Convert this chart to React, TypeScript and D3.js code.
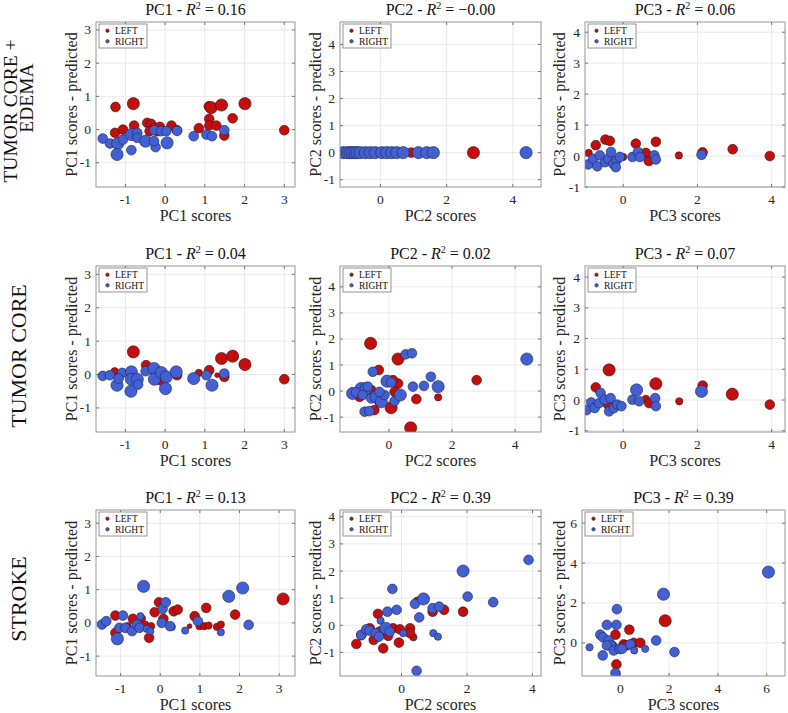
import React from "react";
import * as d3 from "d3";

type Pt = [number, number, number];

const ROW_LABELS: string[][] = [["TUMOR CORE +", "EDEMA"], ["TUMOR CORE"], ["STROKE"]];
const PCS = ["PC1", "PC2", "PC3"];
const R2_VALUES = [
  ["0.16", "\u22120.00", "0.06"],
  ["0.04", "0.02", "0.07"],
  ["0.13", "0.39", "0.39"],
];
const LEGEND_LABELS = ["LEFT", "RIGHT"];

const X_LIMITS: [number, number][] = [
  [-1.74, 3.27], [-1.22, 4.85], [-1.03, 4.36],
  [-1.74, 3.27], [-1.55, 4.82], [-1.03, 4.36],
  [-1.62, 3.4], [-1.88, 4.26], [-1.57, 6.75],
];
const Y_LIMITS: [number, number][] = [
  [-1.73, 3.24], [-1.27, 4.83], [-1.0, 4.33],
  [-1.72, 3.25], [-1.57, 4.8], [-1.04, 4.36],
  [-1.6, 3.4], [-1.87, 4.25], [-1.66, 6.66],
];
const X_TICKS: number[][] = [
  [-1, 0, 1, 2, 3], [0, 2, 4], [0, 2, 4],
  [-1, 0, 1, 2, 3], [0, 2, 4], [0, 2, 4],
  [-1, 0, 1, 2, 3], [0, 2, 4], [0, 2, 4, 6],
];
const Y_TICKS: number[][] = [
  [-1, 0, 1, 2, 3], [-1, 0, 1, 2, 3, 4], [-1, 0, 1, 2, 3, 4],
  [-1, 0, 1, 2, 3], [-1, 0, 1, 2, 3, 4], [-1, 0, 1, 2, 3, 4],
  [-1, 0, 1, 2, 3], [-1, 0, 1, 2, 3, 4], [0, 2, 4, 6],
];

// [score, score - predicted, marker size value]
const LEFT_POINTS: Pt[][] = [
  [[-1.25,0.68,3],[-0.80,0.78,4],[1.10,0.70,3],[1.16,0.66,4],[1.42,0.74,4],[2.01,0.78,4],[1.70,0.34,3],[1.11,0.32,3],[1.11,0.12,3],[1.29,0.12,3],[0.85,0.04,3],[1.49,-0.18,3],[3.0,-0.02,3],[-1.26,-0.10,3],[-1.06,0.0,3],[-0.78,0.12,3],[-0.45,0.2,3],[-0.35,0.17,3],[-0.26,0.05,3],[-0.13,0.08,3],[0.16,0.12,3],[0.30,-0.02,3],[-0.39,-0.05,3],[-0.2,-0.05,3]],
  [[-0.6,0,3],[0.3,0,3],[0.93,0,3],[2.81,0,4]],
  [[-0.93,0.1,2],[-0.74,0.35,3],[-0.48,0.53,3],[-0.36,0.49,3],[0.0,-0.03,2],[0.34,0.40,3],[0.61,0.1,3],[0.69,-0.16,3],[0.88,0.46,3],[1.50,0.02,2],[2.14,0.12,3],[2.95,0.22,3],[3.95,0.0,3]],
  [[-0.80,0.68,4],[1.42,0.48,4],[1.70,0.55,4],[2.01,0.30,4],[3.0,-0.14,3],[1.11,0.13,3],[0.85,0.05,2],[-0.48,0.28,3],[-1.27,0.1,2],[-0.13,-0.17,3],[0.3,-0.02,3],[1.31,-0.02,1],[1.49,-0.07,3],[-0.28,0.13,3]],
  [[-0.58,1.83,4],[0.29,1.23,4],[-0.32,0.81,3],[2.78,0.42,3],[0.69,-1.41,4],[0.87,-0.31,3],[1.56,-0.24,2],[0.07,-0.64,4],[-0.46,-0.73,3],[0.29,0.29,3],[0.13,0.42,3],[0.18,-0.03,3],[-0.56,0.04,3],[-0.93,-0.22,3],[-0.30,-0.41,3]],
  [[-0.38,0.98,4],[-0.74,0.41,3],[0.88,0.53,4],[2.14,0.47,3],[2.94,0.19,4],[3.95,-0.15,3],[1.51,-0.04,2],[0.61,0.04,2],[0.70,-0.1,3],[-0.41,-0.15,3]],
  [[3.10,0.72,4],[-1.13,0.22,3],[-1.13,-0.3,3],[-0.69,0.12,3],[-0.46,0.13,2],[-0.28,-0.45,3],[-0.14,0.32,3],[-0.03,0.62,3],[0.08,0.12,3],[0.34,0.35,3],[0.44,0.40,3],[0.87,0.2,3],[1.16,0.45,3],[1.89,0.25,3],[0.74,-0.1,1],[0.99,-0.1,2],[1.11,-0.1,2],[1.22,-0.08,2],[1.43,-0.12,2],[1.53,-0.05,2],[-0.23,-0.1,2],[-0.38,-0.05,2],[-0.82,-0.1,2],[0.29,-0.12,2]],
  [[-1.38,-0.69,3],[-1.23,-0.36,3],[-0.72,0.42,3],[-0.85,-0.54,3],[-0.56,-0.85,3],[-0.67,-0.23,3],[-0.41,-0.39,3],[-0.26,-0.11,3],[-0.08,-0.64,3],[-0.05,-0.15,3],[0.26,-0.11,3],[0.36,-0.44,2],[0.26,-0.29,3],[0.48,0.91,2],[0.95,0.50,3],[1.30,0.57,3],[1.88,0.5,3],[-0.97,-0.11,3]],
  [[1.84,1.11,4],[0.37,0.66,3],[-0.2,0.41,3],[-0.16,-1.08,3],[0.14,-0.08,3],[0.55,0.0,3],[0.82,0.0,3],[-0.34,-0.13,3],[0.25,-0.13,3]],
];
const RIGHT_POINTS: Pt[][] = [
  [[-1.57,-0.27,3],[-1.39,-0.42,3],[-1.19,-0.42,4],[-1.06,-0.3,3],[-1.21,-0.75,4],[-0.85,-0.62,3],[-0.85,-0.15,4],[-0.70,-0.10,3],[-0.70,-0.25,3],[-0.49,-0.35,4],[-0.27,-0.02,3],[-0.24,-0.53,3],[-0.28,-0.35,3],[-0.10,-0.05,3],[0.03,-0.05,3],[0.05,-0.40,4],[0.30,-0.04,3],[0.72,-0.20,3],[1.04,-0.15,3],[1.18,-0.20,3],[1.49,-0.02,3]],
  [[-1.12,0,4],[-1.0,0,4],[-0.92,0,4],[-0.85,0,4],[-0.77,0,4],[-0.7,0,4],[-0.61,0,4],[-0.46,0,4],[-0.31,0,4],[-0.16,0,4],[0.04,0,4],[0.19,0,4],[0.34,0,4],[0.49,0,4],[0.69,0,4],[1.15,0,4],[1.40,0,4],[1.60,0,4],[4.40,0,4]],
  [[-0.94,-0.27,3],[-0.81,-0.09,3],[-0.70,-0.33,3],[-0.63,0.02,3],[-0.49,-0.2,3],[-0.40,-0.09,3],[-0.33,0.13,3],[-0.27,-0.25,3],[-0.18,-0.14,3],[-0.09,-0.03,3],[-0.2,-0.36,3],[0.25,-0.03,3],[0.40,0.13,3],[0.45,-0.03,3],[0.84,0.02,3],[0.88,-0.11,3],[2.11,0.04,3]],
  [[-1.57,-0.04,3],[-1.39,-0.02,3],[-1.21,-0.32,4],[-1.08,0.05,3],[-1.17,-0.12,3],[-0.85,0.08,4],[-0.86,-0.5,4],[-0.85,-0.14,4],[-0.70,-0.14,4],[-0.68,-0.3,3],[-0.49,0.10,3],[-0.28,0.18,4],[-0.27,-0.14,4],[-0.10,0.06,4],[0.03,-0.07,4],[0.01,-0.42,4],[0.28,0.08,4],[0.72,-0.12,4],[1.04,-0.02,3],[1.18,-0.32,4],[1.49,0.03,3]],
  [[-1.15,-0.09,4],[-0.88,0.10,4],[-1.04,-0.05,3],[-0.72,0.10,4],[-0.83,-0.15,3],[-0.67,0.17,3],[-0.51,0.74,3],[-0.56,-0.28,3],[-0.40,-0.22,4],[-0.24,-0.41,4],[-0.14,-0.15,3],[-0.30,-0.03,3],[-0.06,0.38,4],[0.07,0.33,3],[-0.77,-0.79,3],[-0.62,-0.77,3],[0.18,-0.38,3],[0.36,-0.15,4],[0.53,1.41,3],[0.73,1.45,3],[0.76,0.17,3],[1.11,0.2,3],[1.33,0.55,3],[1.56,0.17,4],[4.37,1.23,4]],
  [[-0.99,-0.33,3],[-0.86,-0.08,3],[-0.77,-0.26,3],[-0.65,-0.1,3],[-0.61,0.23,3],[-0.5,0.01,3],[-0.34,0.06,3],[-0.38,-0.37,3],[-0.25,-0.26,3],[-0.16,-0.15,3],[-0.05,-0.2,3],[0.25,0.01,3],[0.36,0.33,4],[0.43,-0.04,3],[0.86,0.06,3],[0.88,-0.2,3],[2.11,0.28,4]],
  [[-1.47,-0.05,3],[-1.36,0.05,3],[-1.08,-0.48,4],[-0.94,0.22,3],[-1.03,-0.15,3],[-0.88,-0.15,3],[-0.71,-0.25,3],[-0.59,-0.05,3],[-0.50,0.2,2],[-0.42,1.10,4],[-0.52,-0.15,3],[-0.34,-0.18,2],[-0.25,-0.25,2],[0.04,0.0,3],[0.06,0.42,3],[0.14,0.62,3],[0.25,-0.1,3],[0.63,-0.23,2],[0.95,0.05,3],[1.53,-0.28,2],[1.73,0.8,4],[2.08,1.05,4],[2.23,-0.06,3]],
  [[-1.23,-0.36,3],[-1.08,-0.15,3],[-0.98,-0.2,3],[-0.79,-0.29,3],[-0.64,0.17,2],[-0.69,-0.42,3],[-0.48,-0.11,4],[-0.43,0.5,3],[-0.36,-0.23,3],[-0.28,1.34,3],[-0.15,0.57,3],[0.05,-0.29,2],[0.41,0.79,3],[0.54,0.29,3],[0.67,0.97,4],[0.95,0.63,3],[1.15,0.69,3],[0.97,-0.29,2],[1.11,-0.42,2],[0.46,-1.68,3],[1.88,2.0,4],[2.02,1.06,3],[2.80,0.85,3],[3.88,2.41,3]],
  [[-1.26,-0.22,2],[-0.82,0.41,3],[-0.71,0.28,3],[-0.72,-0.63,3],[-0.55,0.9,3],[-0.16,0.9,3],[-0.14,1.69,3],[-0.48,0.12,3],[-0.38,-0.13,3],[-0.55,-0.13,3],[-0.27,-0.38,3],[-0.03,-0.3,3],[0.07,-0.3,3],[0.41,-0.08,3],[0.57,-0.38,2],[1.02,-0.3,2],[1.47,0.12,3],[1.77,2.44,4],[2.22,-0.46,3],[-0.2,-1.51,3],[6.07,3.55,4]],
];

const RED = "#c40d0d";
const BLUE = "#4360d2";
const FONT = "'Liberation Serif', 'Times New Roman', serif";

const COL_LEFT = [96, 340, 585];
const COL_RIGHT = [295, 541, 785];
const ROW_TOP = [22, 266, 510];
const ROW_BOTTOM = [187, 432, 676];
const YLABEL_X = [71.5, 315, 559.5];
// per row label line: [x centre, y centre]
const ROWLABEL_POS: [number, number][][] = [
  [[10.5, 111], [26.5, 98]],
  [[18.5, 356]],
  [[18.5, 599]],
];

const sizeScale = d3.scaleLinear().domain([1, 4]).range([2.4, 6.1]);

function Panel({ idx }: { idx: number }) {
  const row = Math.floor(idx / 3);
  const col = idx % 3;
  const left = row === 2 && col === 2 ? 582 : COL_LEFT[col];
  const right = COL_RIGHT[col];
  const top = ROW_TOP[row];
  const bottom = ROW_BOTTOM[row];
  const x = d3.scaleLinear().domain(X_LIMITS[idx]).range([left, right]);
  const y = d3.scaleLinear().domain(Y_LIMITS[idx]).range([bottom, top]);
  const clipId = `clip${idx}`;
  const pc = PCS[col];
  const tl = 3;
  const fmt = (v: number) => (v < 0 ? "-" + Math.abs(v) : String(v));
  return (
    <g>
      <defs>
        <clipPath id={clipId}>
          <rect x={left} y={top} width={right - left} height={bottom - top} />
        </clipPath>
      </defs>
      <rect x={left} y={top} width={right - left} height={bottom - top} fill="#fff" />
      {X_TICKS[idx].map((t) => (
        <line key={"gx" + t} x1={x(t)} x2={x(t)} y1={top} y2={bottom} stroke="#e3e3e3" strokeWidth={0.8} />
      ))}
      {Y_TICKS[idx].map((t) => (
        <line key={"gy" + t} x1={left} x2={right} y1={y(t)} y2={y(t)} stroke="#e3e3e3" strokeWidth={0.8} />
      ))}
      <g clipPath={`url(#${clipId})`}>
        {LEFT_POINTS[idx].map((p, i) => (
          <circle key={"l" + i} cx={x(p[0])} cy={y(p[1])} r={sizeScale(p[2])} fill={RED} stroke="#3a1010" strokeWidth={0.6} />
        ))}
        {RIGHT_POINTS[idx].map((p, i) => (
          <circle key={"r" + i} cx={x(p[0])} cy={y(p[1])} r={sizeScale(p[2])} fill={BLUE} stroke="#1c2550" strokeWidth={0.6} />
        ))}
      </g>
      {X_TICKS[idx].map((t) => (
        <g key={"tx" + t}>
          <line x1={x(t)} x2={x(t)} y1={bottom} y2={bottom - tl} stroke="#555" strokeWidth={0.8} />
          <line x1={x(t)} x2={x(t)} y1={top} y2={top + tl} stroke="#555" strokeWidth={0.8} />
          <text x={x(t)} y={bottom + 17} textAnchor="middle" fontSize={13.5} fontFamily={FONT} fill="#262626">
            {fmt(t)}
          </text>
        </g>
      ))}
      {Y_TICKS[idx].map((t) => (
        <g key={"ty" + t}>
          <line x1={left} x2={left + tl} y1={y(t)} y2={y(t)} stroke="#555" strokeWidth={0.8} />
          <line x1={right} x2={right - tl} y1={y(t)} y2={y(t)} stroke="#555" strokeWidth={0.8} />
          <text x={left - 5} y={y(t) + 4.5} textAnchor="end" fontSize={13.5} fontFamily={FONT} fill="#262626">
            {fmt(t)}
          </text>
        </g>
      ))}
      <rect x={left} y={top} width={right - left} height={bottom - top} fill="none" stroke="#8a8a8a" strokeWidth={0.9} />
      <rect x={left + 3} y={top + 2} width={48} height={24} fill="#fff" stroke="#7a7a7a" strokeWidth={0.8} />
      {LEGEND_LABELS.map((lab, i) => (
        <g key={lab}>
          <circle cx={left + 11.5} cy={top + 8.7 + i * 10.6} r={1.7} fill={i === 0 ? RED : BLUE} stroke="#222" strokeWidth={0.6} />
          <text x={left + 19} y={top + 12 + i * 10.6} fontSize={9.5} fontFamily={FONT} fill="#111">
            {lab}
          </text>
        </g>
      ))}
      <text x={(left + right) / 2} y={top - 7.5} textAnchor="middle" fontSize={16} fontFamily={FONT} fill="#111">
        {pc} - <tspan fontStyle="italic">R</tspan>
        <tspan fontSize={10} dy={-6}>2</tspan>
        <tspan dy={6}> = {R2_VALUES[row][col]}</tspan>
      </text>
      <text x={(left + right) / 2} y={bottom + 33.5} textAnchor="middle" fontSize={16} fontFamily={FONT} fill="#262626">
        {pc} scores
      </text>
      <text
        transform={`translate(${YLABEL_X[col]},${(top + bottom) / 2}) rotate(-90)`}
        textAnchor="middle"
        dominantBaseline="central"
        fontSize={16}
        fontFamily={FONT}
        fill="#262626"
      >
        {pc} scores - predicted
      </text>
    </g>
  );
}

export default function App() {
  return (
    <svg width={788} height={713} style={{ position: "absolute", left: 0, top: 0, background: "#fff" }}>
      <rect width={788} height={713} fill="#fff" />
      {d3.range(9).map((i) => (
        <Panel key={i} idx={i} />
      ))}
      {ROW_LABELS.map((lines, r) =>
        lines.map((ln, i) => (
          <text
            key={r + "-" + i}
            transform={`translate(${ROWLABEL_POS[r][i][0]},${ROWLABEL_POS[r][i][1]}) rotate(-90)`}
            textAnchor="middle"
            dominantBaseline="central"
            fontSize={lines.length === 2 ? 19.5 : 22}
            fontFamily={FONT}
            fill="#111"
          >
            {ln}
          </text>
        ))
      )}
    </svg>
  );
}
